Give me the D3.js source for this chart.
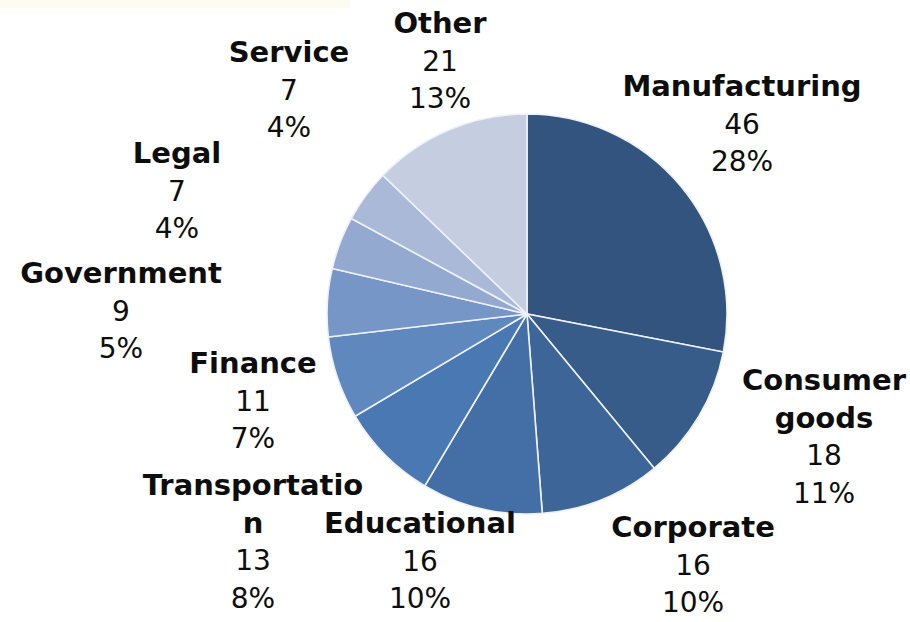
<!DOCTYPE html>
<html>
<head>
<meta charset="utf-8">
<script src="https://cdn.jsdelivr.net/npm/d3@7"></script>
<style>
  body { margin: 0; background: #fff; }
  svg text { font-family: "DejaVu Sans", Verdana, sans-serif; fill: #0d0d0d; }
</style>
</head>
<body>
<div id="chart"></div>
<script>
var categories = ["Manufacturing", "Consumer goods", "Corporate", "Educational", "Transportation",
                  "Finance", "Government", "Legal", "Service", "Other"];
var counts = [46, 18, 16, 16, 13, 11, 9, 7, 7, 21];
var percents = ["28%", "11%", "10%", "10%", "8%", "7%", "5%", "4%", "4%", "13%"];

var colors = ["#33547e", "#385c8a", "#3e6597", "#446fa6", "#4a78b2",
              "#5f88bf", "#7796c8", "#93a9d0", "#aab9d8", "#c5cee1"];

// where Excel put each label block: centre x, first baseline
var labelSpots = [[742, 96], [824, 390], [693, 537], [420, 533], [253, 495],
                  [253, 373], [121, 283], [177, 163], [289, 62], [440, 33]];

var width = 910, height = 622;
var cx = 527, cy = 314, radius = 200;
var lineH = 37.5;

var svg = d3.select("#chart").append("svg")
  .attr("width", width)
  .attr("height", height);

// faint yellow strip left over in the top corner of the original
svg.append("rect")
  .attr("x", 0).attr("y", 0)
  .attr("width", 350).attr("height", 8)
  .attr("fill", "#fefcf0");

var pie = d3.pie().sort(null).value(function(d) { return d; });
var arc = d3.arc().innerRadius(0).outerRadius(radius);

var g = svg.append("g").attr("transform", "translate(" + cx + "," + cy + ")");

g.selectAll("path")
  .data(pie(counts))
  .enter()
  .append("path")
  .attr("d", arc)
  .attr("fill", function(d, i) { return colors[i]; })
  .attr("stroke", "#eef2f8")
  .attr("stroke-width", 1.6);

// break long names the way the original label box did (13 chars a line)
function wrap(name) {
  var lines = [], cur = "";
  name.split(" ").forEach(function(w) {
    var t = cur ? cur + " " + w : w;
    if (t.length <= 13) { cur = t; return; }
    if (cur) lines.push(cur);
    while (w.length > 13) { lines.push(w.slice(0, 13)); w = w.slice(13); }
    cur = w;
  });
  if (cur) lines.push(cur);
  return lines;
}

var labels = svg.selectAll("text.lbl")
  .data(categories)
  .enter()
  .append("text")
  .attr("class", "lbl")
  .attr("text-anchor", "middle")
  .attr("font-size", 28)
  .attr("x", function(d, i) { return labelSpots[i][0]; })
  .attr("y", function(d, i) { return labelSpots[i][1]; });

labels.each(function(name, i) {
  var t = d3.select(this);
  var lines = wrap(name);
  lines.forEach(function(l, j) {
    t.append("tspan")
      .attr("x", labelSpots[i][0])
      .attr("dy", j === 0 ? 0 : lineH)
      .attr("font-weight", "bold")
      .attr("font-size", 29)
      .text(l);
  });
  t.append("tspan").attr("x", labelSpots[i][0]).attr("dy", lineH).text(counts[i]);
  t.append("tspan").attr("x", labelSpots[i][0]).attr("dy", lineH).text(percents[i]);
});
</script>
</body>
</html>
